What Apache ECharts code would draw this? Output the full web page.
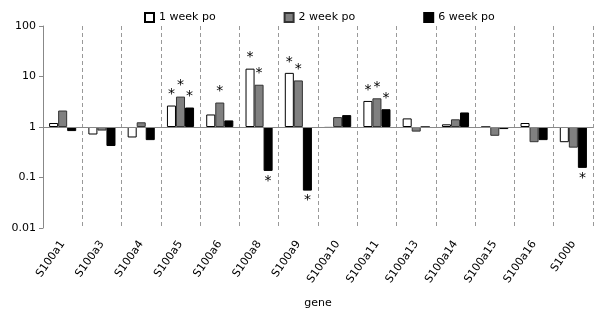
<!DOCTYPE html>
<html><head><meta charset="utf-8">
<script src="https://cdn.jsdelivr.net/npm/echarts@6/dist/echarts.min.js"></script>
<style>html,body{margin:0;padding:0;background:#fff}#c{width:600px;height:314px}</style>
</head><body><div id="c"></div>
<script>
const categories = ['S100a1','S100a3','S100a4','S100a5','S100a6','S100a8','S100a9','S100a10','S100a11','S100a13','S100a14','S100a15','S100a16','S100b'];
const week1 = [1.2,0.71,0.62,2.66,1.77,14.3,11.8,0.96,3.28,1.48,1.13,1.0,1.2,0.5];
const week2 = [2.12,0.85,1.24,4.0,3.05,6.87,8.36,1.57,3.7,0.81,1.42,0.67,0.5,0.39];
const week6 = [0.83,0.42,0.55,2.43,1.35,0.135,0.055,1.72,2.25,1.0,1.94,0.91,0.55,0.155];
const sig1 = [0,0,0,1,0,1,1,0,1,0,0,0,0,0];
const sig2 = [0,0,0,1,1,1,1,0,1,0,0,0,0,0];
const sig6 = [0,0,0,1,0,1,1,0,1,0,0,0,0,1];
const yTicks = [0.01,0.1,1,10,100];
const seriesNames = ['1 week po','2 week po','6 week po'];

const FONT = 'DejaVu Sans';
function mk(vals, sig){
  return vals.map((v,i)=>({
    value: v,
    label: {show: !!sig[i], position: v>=1?'top':'bottom', formatter:'*', distance: v>=1?4:3,
      fontSize: 14, fontFamily: FONT, color:'#000'}
  }));
}
const styles = [
  {color:'#ffffff', borderColor:'#000', borderWidth:1},
  {color:'#808080', borderColor:'#333', borderWidth:1},
  {color:'#000000', borderColor:'#000', borderWidth:1}
];
const datas = [mk(week1,sig1), mk(week2,sig2), mk(week6,sig6)];
const series = seriesNames.map((n,k)=>({
  name:n, type:'bar', data:datas[k], barGap:'0%', barCategoryGap:'31%',
  itemStyle: styles[k], silent:true,
  markLine: k===0 ? {silent:true, symbol:'none', label:{show:false},
    lineStyle:{color:'#888', type:'solid', width:1}, data:[{yAxis:1}]} : undefined
}));

const chart = echarts.init(document.getElementById('c'));
chart.setOption({
  animation:false,
  grid:{left:43, top:26, right:7, bottom:84},
  legend:{top:7, left:139, itemWidth:9, itemHeight:9, itemGap:68, icon:'rect',
    textStyle:{fontFamily:FONT, fontSize:11, color:'#000'}, data:seriesNames},
  xAxis:{type:'category', data:categories, boundaryGap:true,
    name:'gene', nameLocation:'middle', nameGap:70,
    nameTextStyle:{fontFamily:FONT, fontSize:11, color:'#000'},
    axisLine:{show:false}, axisTick:{show:false},
    axisLabel:{interval:0, rotate:55, fontFamily:FONT, fontSize:11, color:'#000', margin:14},
    splitLine:{show:true, interval:0, lineStyle:{color:'#999', type:[4,3], width:1}}
  },
  yAxis:{type:'log', logBase:10, min:0.01, max:100,
    axisLine:{show:true, lineStyle:{color:'#888'}},
    axisTick:{show:true, length:4, lineStyle:{color:'#888'}},
    splitLine:{show:false},
    axisLabel:{fontFamily:FONT, fontSize:11, color:'#000', margin:7,
      formatter:v=>{const t=yTicks.find(x=>Math.abs(x-v)/x<1e-6);return t===undefined?'':String(t);}}
  },
  series: series
});
</script></body></html>
